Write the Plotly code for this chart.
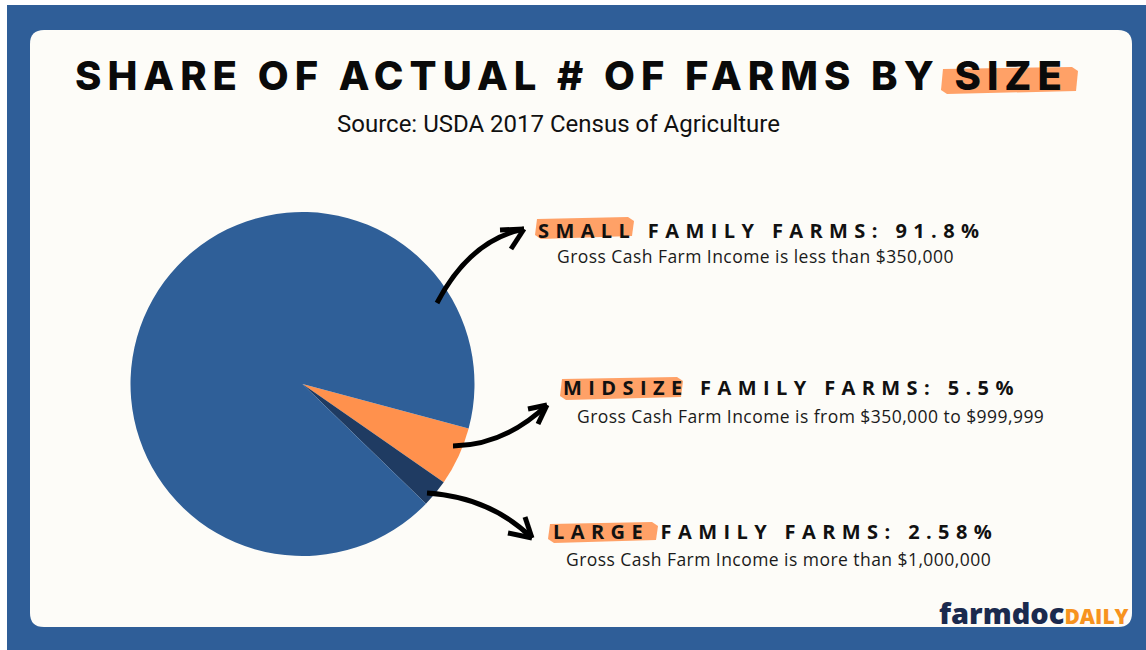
import plotly.graph_objects as go

# ---- data -------------------------------------------------------------
categories = ["Midsize", "Large", "Small"]
shares = [5.5, 2.58, 91.8]
slice_colors = ["#ff914d", "#1f3b62", "#2f5f98"]
income_notes = [
    "Gross Cash Farm Income is from $350,000 to $999,999",
    "Gross Cash Farm Income is more than $1,000,000",
    "Gross Cash Farm Income is less than $350,000",
]
title_words = ["SHARE OF ACTUAL # OF FARMS BY", "SIZE"]
source_text = "Source: USDA 2017 Census of Agriculture"

W, H = 1146, 650
FRAME = "#2f5e98"
CARD = "#fdfcf8"
ORANGE = "#ff914d"


def px(x):
    return x / W


def py(y):
    return 1 - y / H


def path_of(points, close=False):
    s = "M " + " L ".join(f"{px(x):.5f},{py(y):.5f}" for x, y in points)
    return s + (" Z" if close else "")


def curve(p0, c, p1):
    return (f"M {px(p0[0]):.5f},{py(p0[1]):.5f} Q {px(c[0]):.5f},{py(c[1]):.5f} "
            f"{px(p1[0]):.5f},{py(p1[1]):.5f}")


fig = go.Figure()

fig.add_trace(go.Pie(
    labels=categories,
    values=shares,
    marker=dict(colors=slice_colors, line=dict(width=0)),
    sort=False,
    direction="clockwise",
    rotation=105,
    textinfo="none",
    hoverinfo="label+percent",
    showlegend=False,
    domain=dict(x=[px(130), px(475)], y=[py(556), py(212)]),
))

shapes = []
# outer frame and rounded card
shapes.append(dict(type="rect", xref="paper", yref="paper", x0=px(7), x1=px(W), y0=py(H), y1=py(5),
                   fillcolor=FRAME, line=dict(width=0), layer="below"))
r = 14
x0, x1, y0, y1 = 30, 1132, 30, 627
card = (f"M {px(x0+r)},{py(y0)} L {px(x1-r)},{py(y0)} Q {px(x1)},{py(y0)} {px(x1)},{py(y0+r)} "
        f"L {px(x1)},{py(y1-r)} Q {px(x1)},{py(y1)} {px(x1-r)},{py(y1)} "
        f"L {px(x0+r)},{py(y1)} Q {px(x0)},{py(y1)} {px(x0)},{py(y1-r)} "
        f"L {px(x0)},{py(y0+r)} Q {px(x0)},{py(y0)} {px(x0+r)},{py(y0)} Z")
shapes.append(dict(type="path", xref="paper", yref="paper", path=card,
                   fillcolor=CARD, line=dict(width=0), layer="below"))


def brush(xa, xb, ya, yb):
    pts = [(xa + 2, ya + 1), (xb - 6, ya - 1), (xb, ya + 3), (xb - 2, yb - 2),
           (xa + 6, yb + 1), (xa, yb - 3)]
    return dict(type="path", xref="paper", yref="paper", path=path_of(pts, True),
                fillcolor=ORANGE, opacity=0.85, line=dict(width=0), layer="above")


# highlight strokes behind key words
shapes.append(brush(941, 1078, 68, 93))
shapes.append(brush(535, 634, 218, 238))
shapes.append(brush(560, 683, 378, 399))
shapes.append(brush(548, 658, 523, 542))

# curved pointer arrows from slices to their labels
arrows = [
    ((437, 303), (470, 240), (524, 229), [(500, 230), (511, 249)]),
    ((453, 446), (505, 445), (547, 405), [(528, 409), (538, 424)]),
    ((427, 493), (490, 497), (532, 538), [(508, 533), (525, 517)]),
]
for p0, c, p1, barbs in arrows:
    shapes.append(dict(type="path", xref="paper", yref="paper", path=curve(p0, c, p1),
                       line=dict(color="black", width=5), layer="above"))
    for b in barbs:
        shapes.append(dict(type="path", xref="paper", yref="paper", path=path_of([b, p1]),
                           line=dict(color="black", width=5), layer="above"))

annotations = []
annotations.append(dict(
    x=px(571), y=py(76), xref="paper", yref="paper", xanchor="center", yanchor="middle",
    showarrow=False,
    text=f"<span style='letter-spacing:6px'>{title_words[0]} {title_words[1]}</span>",
    font=dict(family="Inter", size=40, color="#0a0a0a", weight=800),
))
annotations.append(dict(
    x=px(558), y=py(124), xref="paper", yref="paper", xanchor="center", yanchor="middle",
    showarrow=False, text=source_text,
    font=dict(family="Roboto", size=24, color="#111111"),
))

# label blocks: heading x, heading y, note x, note y
label_pos = {
    "Small": (536, 230, 555, 256),
    "Midsize": (561, 387, 575, 416),
    "Large": (551, 531, 564, 559),
}
for name, share, note in zip(categories, shares, income_notes):
    hx, hy, nx, ny = label_pos[name]
    annotations.append(dict(
        x=px(hx), y=py(hy), xref="paper", yref="paper", xanchor="left", yanchor="middle",
        showarrow=False,
        text=f"<span style='letter-spacing:6.4px'>{name.upper()} FAMILY FARMS: {share:g}%</span>",
        font=dict(family="Open Sans", size=20, color="#111111", weight=700),
    ))
    annotations.append(dict(
        x=px(nx), y=py(ny), xref="paper", yref="paper", xanchor="left", yanchor="middle",
        showarrow=False,
        text=f"<span style='letter-spacing:0.45px'>{note}</span>",
        font=dict(family="Open Sans", size=17.5, color="#1a1a1a"),
    ))

# logo
annotations.append(dict(
    x=px(1131), y=py(612), xref="paper", yref="paper", xanchor="right", yanchor="middle",
    showarrow=False,
    text="<span style='color:#1b2a4e;font-size:29px'>farmdoc</span>"
         "<span style='color:#f7931e;font-size:21px'>DAILY</span>",
    font=dict(family="Open Sans", size=29, weight=800),
))

fig.update_layout(
    width=W, height=H, autosize=False,
    margin=dict(l=0, r=0, t=0, b=0),
    paper_bgcolor="white", plot_bgcolor="white",
    shapes=shapes, annotations=annotations,
    xaxis=dict(visible=False), yaxis=dict(visible=False),
)

fig.write_html("out.html")
